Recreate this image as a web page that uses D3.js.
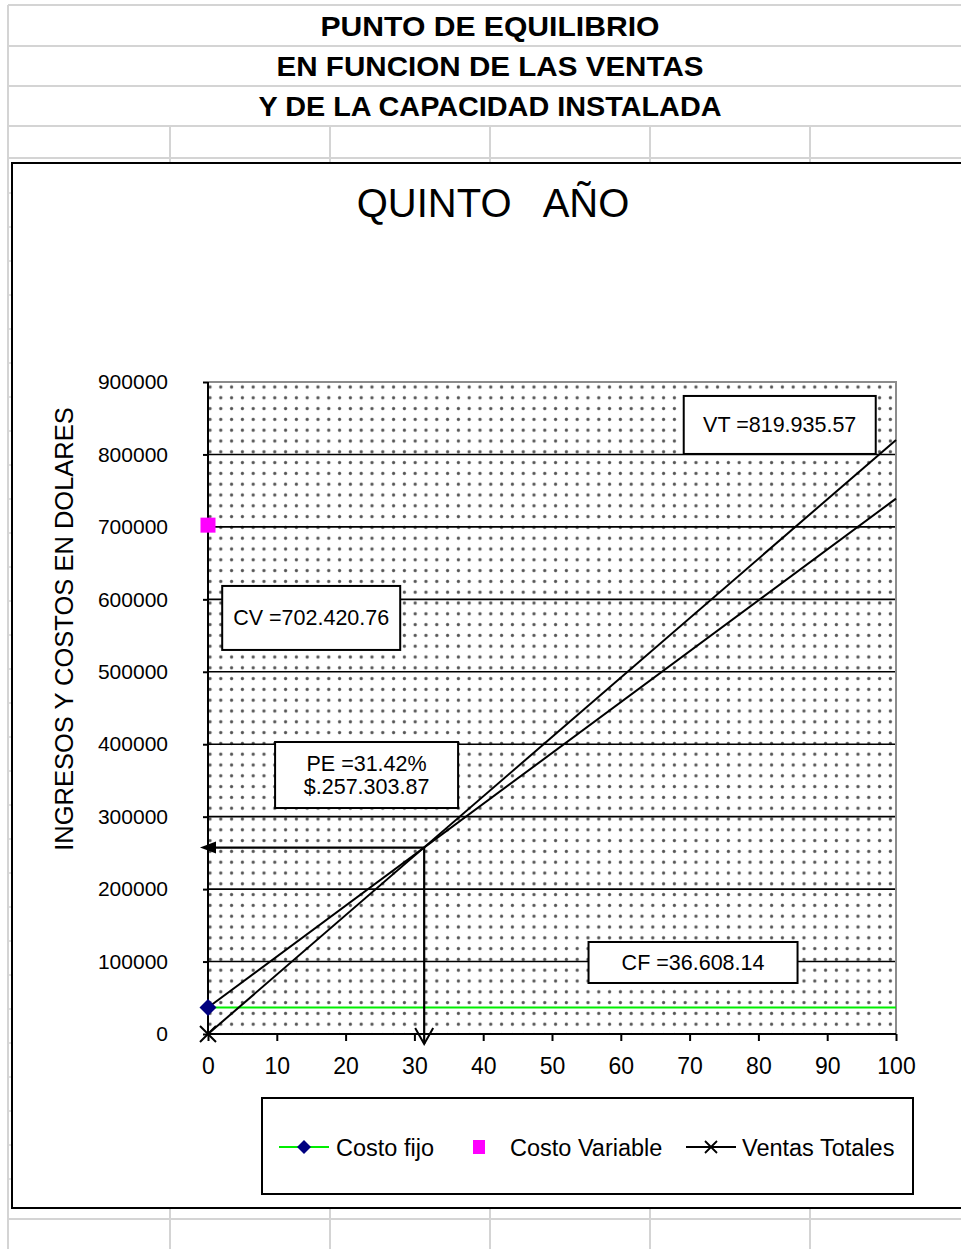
<!DOCTYPE html>
<html>
<head>
<meta charset="utf-8">
<script src="https://cdn.jsdelivr.net/npm/d3@7"></script>
<style>
  html, body { margin: 0; padding: 0; background: #fff; }
  svg { display: block; font-family: "Liberation Sans", Arial, sans-serif; }
</style>
</head>
<body>
<svg id="chart" width="961" height="1249"></svg>
<script>
// Sheet headings
const headings = ["PUNTO DE EQUILIBRIO", "EN FUNCION DE LAS VENTAS", "Y DE LA CAPACIDAD INSTALADA"];
const chartTitle = "QUINTO   AÑO";
const yAxisTitle = "INGRESOS Y COSTOS EN DOLARES";

// Capacity used (%) and the series plotted against it
const capacidad = [0, 100];
const costoFijo = [36608.14, 36608.14];
const costoTotal = [36608.14, 739028.90];
const ventasTotales = [0, 819935.57];
const costoVariable = [702420.76];          // single marker at capacity 0

// Break-even point
const peCapacidad = 31.42;
const peMonto = 257303.87;

// Axis ticks
const xTicks = [0, 10, 20, 30, 40, 50, 60, 70, 80, 90, 100];
const yTicks = [0, 100000, 200000, 300000, 400000, 500000, 600000, 700000, 800000, 900000];

// Value boxes, anchored in data units
const boxLabels = [
  { lines: ["VT =819.935.57"], x: 83.1, y: 840700 },
  { lines: ["CV =702.420.76"], x: 15, y: 574300 },
  { lines: ["PE =31.42%", "$.257.303.87"], x: 23.05, y: 357500 },
  { lines: ["CF =36.608.14"], x: 70.5, y: 98700 }
];

const legendItems = ["Costo fijo", "Costo Variable", "Ventas Totales"];

const svg = d3.select("#chart");
const grid = "#d4d4d4";

// ---- spreadsheet grid behind the chart ----
const g0 = svg.append("g").attr("stroke", grid).attr("stroke-width", 2);
[5, 46, 86, 126, 158].forEach(y => g0.append("line").attr("x1", 8).attr("x2", 961).attr("y1", y).attr("y2", y));
g0.append("line").attr("x1", 8).attr("x2", 8).attr("y1", 5).attr("y2", 1249);
[170, 330, 490, 650, 810].forEach(x => {
  g0.append("line").attr("x1", x).attr("x2", x).attr("y1", 126).attr("y2", 162);
  g0.append("line").attr("x1", x).attr("x2", x).attr("y1", 1208).attr("y2", 1249);
});
g0.append("line").attr("x1", 8).attr("x2", 961).attr("y1", 1219).attr("y2", 1219);
d3.range(193, 1205, 34).forEach(y => g0.append("line").attr("x1", 8).attr("x2", 12).attr("y1", y).attr("y2", y).attr("stroke-width", 1.5));

// headings
const headW = [339, 427, 463];
headings.forEach((t, i) => {
  svg.append("text")
    .attr("x", 490).attr("y", 36 + i * 40)
    .attr("text-anchor", "middle")
    .attr("font-size", 28).attr("font-weight", "bold")
    .attr("textLength", headW[i]).attr("lengthAdjust", "spacingAndGlyphs")
    .text(t);
});

// ---- chart area ----
svg.append("rect").attr("x", 12).attr("y", 163).attr("width", 960).attr("height", 1045)
  .attr("fill", "#fff").attr("stroke", "#000").attr("stroke-width", 2);

svg.append("text").attr("x", 493).attr("y", 217)
  .attr("text-anchor", "middle").attr("font-size", 40)
  .style("white-space", "pre").text(chartTitle);

const x = d3.scaleLinear().domain([0, 100]).range([208, 896]);
const y = d3.scaleLinear().domain([0, 900000]).range([1034, 382]);

// dotted plot background
const defs = svg.append("defs");
const pat = defs.append("pattern").attr("id", "dots").attr("patternUnits", "userSpaceOnUse")
  .attr("x", 204.6).attr("y", 381.6).attr("width", 10.8).attr("height", 10.8);
pat.append("circle").attr("cx", 5.4).attr("cy", 5.4).attr("r", 1.6).attr("fill", "#555");

svg.append("rect").attr("x", x(0)).attr("y", y(900000))
  .attr("width", x(100) - x(0)).attr("height", y(0) - y(900000))
  .attr("fill", "#fff");
svg.append("rect").attr("x", x(0)).attr("y", y(900000))
  .attr("width", x(100) - x(0)).attr("height", y(0) - y(900000))
  .attr("fill", "url(#dots)");

// gridlines
svg.append("g").selectAll("line").data(yTicks.filter(v => v > 0 && v < 900000)).join("line")
  .attr("x1", x(0)).attr("x2", x(100))
  .attr("y1", d => y(d)).attr("y2", d => y(d))
  .attr("stroke", "#000").attr("stroke-width", 1.6);
// plot border top/right
svg.append("path")
  .attr("d", `M${x(0)},${y(900000)}H${x(100)}V${y(0)}`)
  .attr("fill", "none").attr("stroke", "#8c8c8c").attr("stroke-width", 2);

// axes
const yAxis = svg.append("g").attr("transform", `translate(${x(0)},0)`)
  .call(d3.axisLeft(y).tickValues(yTicks).tickSize(5).tickPadding(35).tickFormat(d3.format("d")));
const xAxis = svg.append("g").attr("transform", `translate(0,${y(0)})`)
  .call(d3.axisBottom(x).tickValues(xTicks).tickSize(7).tickPadding(17).tickFormat(d3.format("d")));
[yAxis, xAxis].forEach(a => {
  a.select(".domain").attr("stroke", "#000").attr("stroke-width", 2);
  a.selectAll(".tick line").attr("stroke", "#000").attr("stroke-width", 2);
  a.selectAll("text").attr("fill", "#000").attr("font-family", "Liberation Sans, Arial, sans-serif");
});
yAxis.selectAll("text").attr("font-size", 21);
xAxis.selectAll("text").attr("font-size", 23);
xAxis.select(".domain").attr("d", `M${x(0)},0H${x(100)}`);
yAxis.select(".domain").attr("d", `M0,${y(0)}V${y(900000)}`);

svg.append("text")
  .attr("transform", `translate(73,629) rotate(-90)`)
  .attr("text-anchor", "middle").attr("font-size", 25.5)
  .text(yAxisTitle);

// ---- series ----
const line = d3.line().x(d => x(d[0])).y(d => y(d[1]));
const pts = arr => capacidad.map((c, i) => [c, arr[i]]);

svg.append("path").datum(pts(costoFijo)).attr("d", line)
  .attr("fill", "none").attr("stroke", "#00ee00").attr("stroke-width", 2.2);
svg.append("path").datum(pts(costoTotal)).attr("d", line)
  .attr("fill", "none").attr("stroke", "#000").attr("stroke-width", 2);
svg.append("path").datum(pts(ventasTotales)).attr("d", line)
  .attr("fill", "none").attr("stroke", "#000").attr("stroke-width", 2);

// break-even arrows
const px = x(peCapacidad), py = y(peMonto);
svg.append("line").attr("x1", px).attr("y1", py).attr("x2", x(0) - 2).attr("y2", py)
  .attr("stroke", "#000").attr("stroke-width", 2.2);
svg.append("path")
  .attr("d", `M${x(0) - 8},${py}L${x(0) + 8},${py - 6}L${x(0) + 8},${py + 6}Z`)
  .attr("fill", "#000");
svg.append("line").attr("x1", px).attr("y1", py).attr("x2", px).attr("y2", y(0) + 10)
  .attr("stroke", "#000").attr("stroke-width", 2.2);
svg.append("path")
  .attr("d", `M${px - 9},${y(0) - 6}L${px},${y(0) + 10}L${px + 9},${y(0) - 6}`)
  .attr("fill", "none").attr("stroke", "#000").attr("stroke-width", 2);

// markers
const diamond = (cx, cy, r) => `M${cx},${cy - r}L${cx + r},${cy}L${cx},${cy + r}L${cx - r},${cy}Z`;
const cross = (cx, cy, r) => `M${cx - r},${cy - r}L${cx + r},${cy + r}M${cx - r},${cy + r}L${cx + r},${cy - r}`;

svg.append("path").attr("d", diamond(x(capacidad[0]), y(costoFijo[0]), 8.5)).attr("fill", "#000080");
svg.append("rect").attr("x", x(capacidad[0]) - 7.5).attr("y", y(costoVariable[0]) - 7.5)
  .attr("width", 15).attr("height", 15).attr("fill", "#ff00ff");
svg.append("path").attr("d", cross(x(capacidad[0]), y(ventasTotales[0]), 8))
  .attr("stroke", "#000").attr("stroke-width", 2);

// value boxes
const boxDims = [[192, 58], [178, 64], [183, 66], [209, 41]];
boxLabels.forEach((b, i) => {
  const [w, h] = boxDims[i];
  const cx = x(b.x), cy = y(b.y);
  svg.append("rect").attr("x", cx - w / 2).attr("y", cy - h / 2).attr("width", w).attr("height", h)
    .attr("fill", "#fff").attr("stroke", "#000").attr("stroke-width", 2);
  const n = b.lines.length;
  b.lines.forEach((t, j) => {
    svg.append("text").attr("x", cx).attr("y", cy + (j - (n - 1) / 2) * 23 + 7.5)
      .attr("text-anchor", "middle").attr("font-size", 21.5).text(t);
  });
});

// ---- legend ----
const lg = svg.append("g");
lg.append("rect").attr("x", 262).attr("y", 1098).attr("width", 651).attr("height", 96)
  .attr("fill", "#fff").attr("stroke", "#000").attr("stroke-width", 2);
const ly = 1147;
lg.append("line").attr("x1", 279).attr("x2", 329).attr("y1", ly).attr("y2", ly)
  .attr("stroke", "#00ee00").attr("stroke-width", 2.2);
lg.append("path").attr("d", diamond(304, ly, 7)).attr("fill", "#000080");
lg.append("rect").attr("x", 473).attr("y", ly - 7).attr("width", 12).attr("height", 14).attr("fill", "#ff00ff");
lg.append("line").attr("x1", 686).attr("x2", 736).attr("y1", ly).attr("y2", ly)
  .attr("stroke", "#000").attr("stroke-width", 2);
lg.append("path").attr("d", cross(711, ly, 6)).attr("stroke", "#000").attr("stroke-width", 1.8);
[[336, legendItems[0]], [510, legendItems[1]], [742, legendItems[2]]].forEach(([lx, t]) => {
  lg.append("text").attr("x", lx).attr("y", ly + 8.5).attr("font-size", 23.5).text(t);
});
</script>
</body>
</html>
